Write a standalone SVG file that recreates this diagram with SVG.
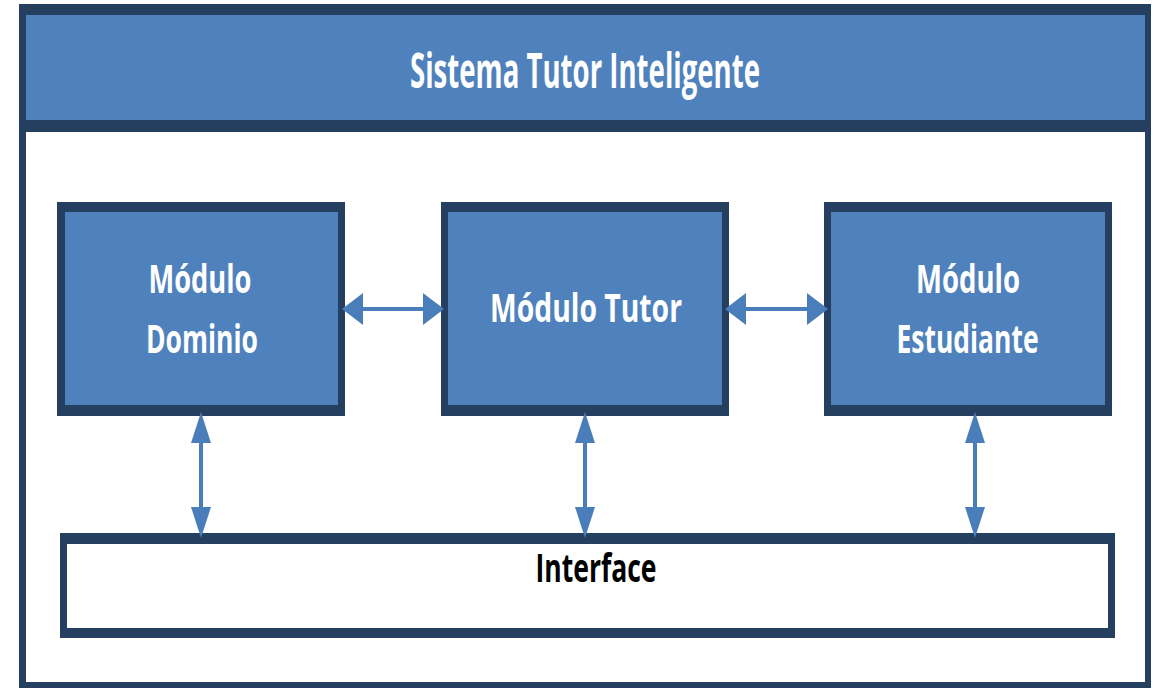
<svg xmlns="http://www.w3.org/2000/svg" width="1156" height="688" viewBox="0 0 1156 688">
  <style>
    .dark { fill: #243F60; }
    .blue { fill: #4F81BD; }
    .white { fill: #FFFFFF; }
    .lbl { font-family: "Open Sans", "Liberation Sans", sans-serif; font-weight: bold; fill: #FFFFFF; text-anchor: middle; }
    .lblk { font-family: "Open Sans", "Liberation Sans", sans-serif; font-weight: bold; fill: #000000; text-anchor: middle; }
    .conn line { stroke: #4A7EBB; stroke-width: 4; }
    .conn polygon { fill: #4A7EBB; }
  </style>
  <rect x="0" y="0" width="1156" height="688" fill="#FFFFFF"/>

  <g id="frame">
    <rect class="dark" x="19" y="4" width="1132" height="684"/>
    <rect class="white" x="26" y="132" width="1119" height="550"/>
  </g>

  <g id="title">
    <rect class="dark" x="19" y="4" width="1132" height="128"/>
    <rect class="blue" x="26" y="15" width="1119" height="105"/>
    <text class="lbl" x="585" y="88" font-size="49" textLength="350" lengthAdjust="spacingAndGlyphs">Sistema Tutor Inteligente</text>
  </g>

  <g id="modulo-dominio">
    <rect class="dark" x="57" y="202" width="288" height="214"/>
    <rect class="blue" x="65" y="212" width="273" height="193"/>
    <text class="lbl" x="200" y="293" font-size="38.5" textLength="103" lengthAdjust="spacingAndGlyphs">Módulo</text>
    <text class="lbl" x="202" y="353" font-size="38.5" textLength="112" lengthAdjust="spacingAndGlyphs">Dominio</text>
  </g>

  <g id="modulo-tutor">
    <rect class="dark" x="441" y="202" width="288" height="214"/>
    <rect class="blue" x="448" y="212" width="274" height="193"/>
    <text class="lbl" x="586" y="322" font-size="40" textLength="192" lengthAdjust="spacingAndGlyphs">Módulo Tutor</text>
  </g>

  <g id="modulo-estudiante">
    <rect class="dark" x="824" y="202" width="288" height="214"/>
    <rect class="blue" x="831" y="212" width="274" height="193"/>
    <text class="lbl" x="968" y="293" font-size="38.5" textLength="104" lengthAdjust="spacingAndGlyphs">Módulo</text>
    <text class="lbl" x="967.5" y="353" font-size="38.5" textLength="142" lengthAdjust="spacingAndGlyphs">Estudiante</text>
  </g>

  <g id="interface">
    <rect class="dark" x="60" y="533" width="1055" height="105"/>
    <rect class="white" x="67" y="544" width="1041" height="84"/>
    <text class="lblk" x="596" y="582" font-size="40" textLength="121" lengthAdjust="spacingAndGlyphs">Interface</text>
  </g>

  <g id="connectors" class="conn">
    <!-- Dominio <-> Tutor -->
    <line x1="360" y1="309" x2="426" y2="309"/>
    <polygon points="342,309 363,293 363,325"/>
    <polygon points="444,309 423,293 423,325"/>
    <!-- Tutor <-> Estudiante -->
    <line x1="744" y1="309" x2="809" y2="309"/>
    <polygon points="725,309 746,293 746,325"/>
    <polygon points="828,309 807,293 807,325"/>
    <!-- Dominio <-> Interface -->
    <line x1="201" y1="440" x2="201" y2="509"/>
    <polygon points="201,412 191,443 211,443"/>
    <polygon points="201,538 191,507 211,507"/>
    <!-- Tutor <-> Interface -->
    <line x1="585" y1="440" x2="585" y2="509"/>
    <polygon points="585,412 575,443 595,443"/>
    <polygon points="585,538 575,507 595,507"/>
    <!-- Estudiante <-> Interface -->
    <line x1="975" y1="440" x2="975" y2="509"/>
    <polygon points="975,412 965,443 985,443"/>
    <polygon points="975,538 965,507 985,507"/>
  </g>
</svg>
